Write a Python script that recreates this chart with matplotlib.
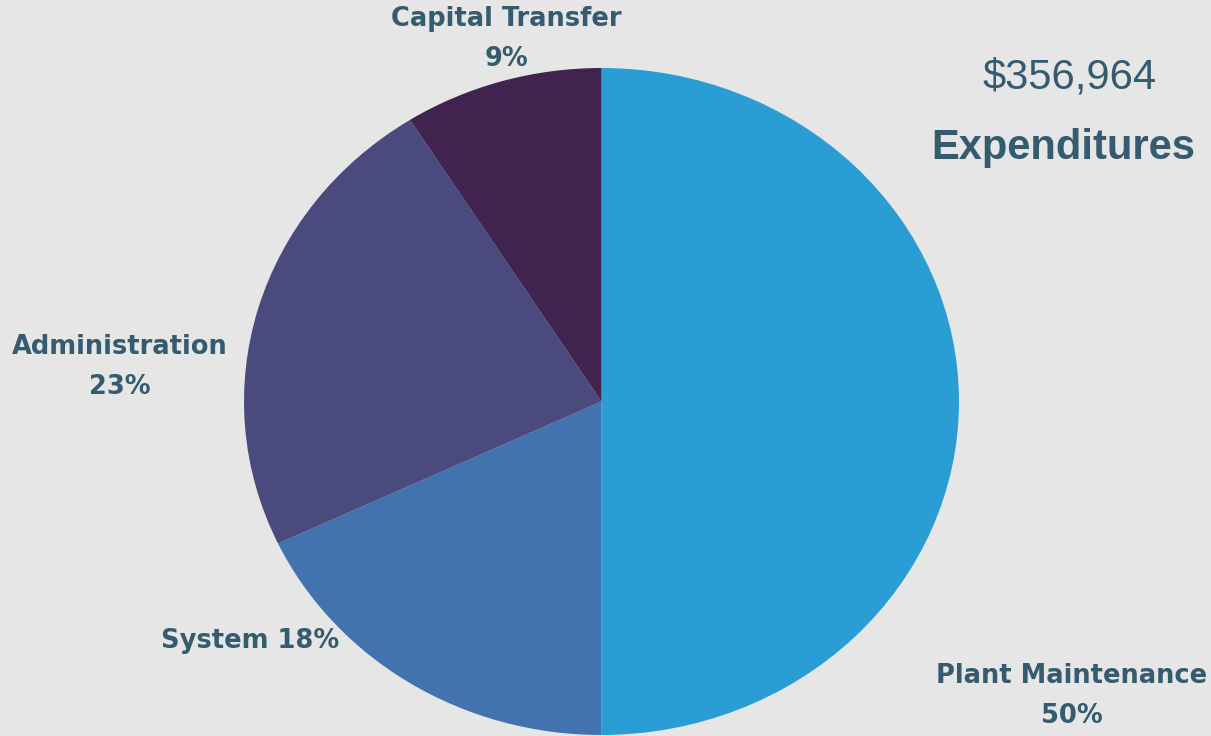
import matplotlib.pyplot as plt

categories = ['Plant Maintenance', 'System', 'Administration', 'Capital Transfer']
shares = [50, 18, 23, 9]
colors = ['#2A9DD5', '#4273AF', '#4A4A7F', '#40244F']
total_label = '$356,964'
title = 'Expenditures'

bg = '#E6E6E6'
txt = '#345B6E'

fig = plt.figure(figsize=(12.11, 7.36), dpi=100, facecolor=bg)
# pie is slightly stretched horizontally in the original, so no equal aspect
ax = fig.add_axes([244 / 1211, 1 / 736, 715 / 1211, 667 / 736])
ax.set_facecolor(bg)
ax.pie(shares, colors=colors, startangle=90, counterclock=False,
       wedgeprops=dict(linewidth=0))
ax.set_aspect('auto')
ax.set_xlim(-1, 1)
ax.set_ylim(-1, 1)
ax.axis('off')

W, H = 1211, 736
lab_kw = dict(ha='center', va='center', fontsize=18.5, fontweight='bold',
              color=txt, family='DejaVu Sans')

# label placement in pixels (x center, y of first line) - two-line or one-line
places = {
    'Plant Maintenance': (1072, 676, 'two'),
    'System': (250, 641, 'one'),
    'Administration': (120, 347, 'two'),
    'Capital Transfer': (506, 19, 'two'),
}
for name, pct in zip(categories, shares):
    x, y, mode = places[name]
    if mode == 'one':
        fig.text(x / W, 1 - y / H, f'{name} {pct}%', **lab_kw)
    else:
        fig.text(x / W, 1 - y / H, name, **lab_kw)
        fig.text(x / W, 1 - (y + 40) / H, f'{pct}%', **lab_kw)

fig.text(1070 / W, 1 - 78 / H, total_label, ha='center', va='center',
         fontsize=30, color=txt, family='Liberation Sans')
fig.text(1063 / W, 1 - 148 / H, title, ha='center', va='center',
         fontsize=30, fontweight='bold', color=txt, family='Liberation Sans')

fig.savefig('out.png', dpi=100, facecolor=bg)
